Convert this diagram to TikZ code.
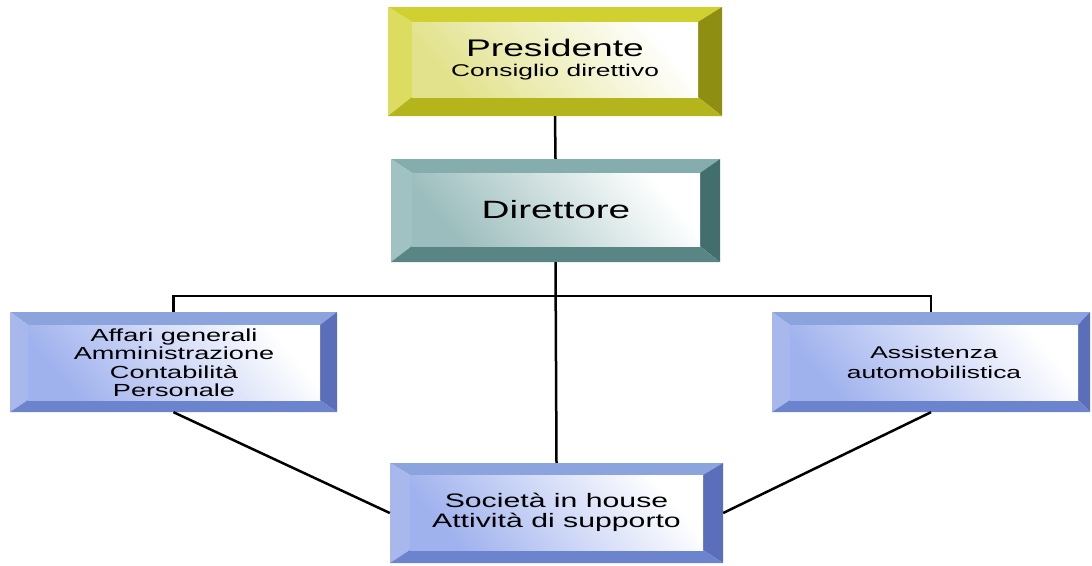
\documentclass[tikz,border=0pt]{standalone}
\usepackage{fontspec}
\setmainfont{Liberation Sans}[FakeStretch=1.55]
\usetikzlibrary{fit,calc}
\definecolor{ytop}{HTML}{D0D030}
\definecolor{yleft}{HTML}{DCDC60}
\definecolor{yright}{HTML}{8E8E12}
\definecolor{ybot}{HTML}{B4B41C}
\definecolor{yface}{HTML}{E2E28C}
\definecolor{ttop}{HTML}{85ADAD}
\definecolor{tleft}{HTML}{A0C2C2}
\definecolor{tright}{HTML}{426E6E}
\definecolor{tbot}{HTML}{5A8585}
\definecolor{tface}{HTML}{9CBDBD}
\definecolor{btop}{HTML}{8CA4DE}
\definecolor{bleft}{HTML}{A8B8EC}
\definecolor{bright}{HTML}{5A6EBA}
\definecolor{bbot}{HTML}{6C84CE}
\definecolor{bface}{HTML}{A0B2EE}
\newcommand\fs[2]{\fontsize{#1}{#2}\selectfont}
\tikzset{
  conn/.style={line width=2.5pt, black},
  boxtext/.style={align=center, inner sep=0pt, text=black},
  f-pres/.style={font=\fs{17}{20}},
  f-dir/.style={font=\fs{25}{27}},
  f-aff/.style={font=\fs{17.5}{18.5}},
  f-ass/.style={font=\fs{17}{19.5}},
  f-soc/.style={font=\fs{19.5}{19.5}},
}
\newcommand\bevbox[9]{%
  \coordinate (#1-o1) at (#2,#3);
  \coordinate (#1-o2) at (#4,#5);
  \coordinate (#1-i1) at (#6);
  \coordinate (#1-i2) at (#7);
  \fill[#8top] (#1-o1) -- (#1-o2 |- #1-o1) -- (#1-i2 |- #1-i1) -- (#1-i1) -- cycle;
  \fill[#8left] (#1-o1) -- (#1-o1 |- #1-o2) -- (#1-i1 |- #1-i2) -- (#1-i1) -- cycle;
  \fill[#8right] (#1-o2 |- #1-o1) -- (#1-o2) -- (#1-i2) -- (#1-i2 |- #1-i1) -- cycle;
  \fill[#8bot] (#1-o1 |- #1-o2) -- (#1-o2) -- (#1-i2) -- (#1-i1 |- #1-i2) -- cycle;
  \shade[top color=white, middle color=white, bottom color=#8face, shading angle=-50] (#1-i1) rectangle (#1-i2);
  \node[fit=(#1-o1)(#1-o2), inner sep=0pt] (#1) {};
  \node[boxtext, f-#1] (#1-t) at ($(#1-i1)!0.5!(#1-i2)$) {#9};
}
\begin{document}
\begin{tikzpicture}[x=1pt,y=-1pt]
\useasboundingbox (0,0) rectangle (1092,565);
\fill[white] (0,0) rectangle (1092,565);
\bevbox{pres}{388}{7}{722}{116}{412,22}{698,97}{y}{\fs{24}{20}Presidente\\Consiglio direttivo}
\bevbox{dir}{391}{159}{720}{262}{412,173}{700,246}{t}{Direttore}
\bevbox{aff}{10}{312}{337}{412}{28,325}{320,400}{b}{Affari generali\\Amministrazione\\Contabilità\\Personale}
\bevbox{ass}{772}{312}{1090}{412}{790,325}{1078,400}{b}{Assistenza\\automobilistica}
\bevbox{soc}{390}{463}{723}{563}{410,475}{703,550}{b}{Società in house\\Attività di supporto}
\coordinate (bus) at (553,296);
\draw[conn] (pres.south) -- (dir.north);
\draw[conn] (aff.north) |- (bus) -| (ass.north);
\draw[conn] (dir.south) -- (soc.north);
\draw[conn] (aff.south) -- (soc.west);
\draw[conn] (ass.south) -- (soc.east);
\end{tikzpicture}
\end{document}
